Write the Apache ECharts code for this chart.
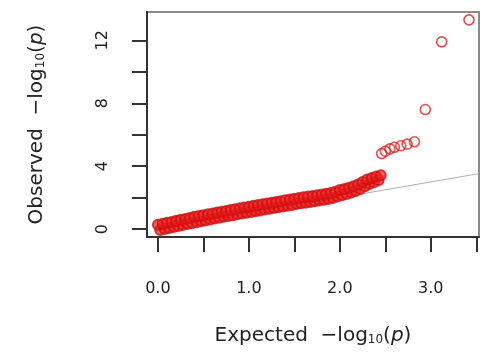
<!DOCTYPE html>
<html>
<head>
<meta charset="utf-8">
<script src="https://cdn.jsdelivr.net/npm/echarts@6/dist/echarts.min.js"></script>
<style>
  html, body { margin: 0; padding: 0; background: #fff; }
  #main { width: 483px; height: 354px; }
</style>
</head>
<body>
<div id="main"></div>
<script>
// expected -log10(p) vs observed -log10(p)
const bandUpper = [
  [0.00, 0.28], [0.05, 0.34], [0.10, 0.40], [0.15, 0.46], [0.20, 0.53], [0.25, 0.59],
  [0.30, 0.65], [0.35, 0.71], [0.40, 0.78], [0.45, 0.83], [0.50, 0.88], [0.55, 0.94],
  [0.60, 1.00], [0.65, 1.06], [0.70, 1.11], [0.75, 1.16], [0.80, 1.22], [0.85, 1.27],
  [0.90, 1.32], [0.95, 1.38], [1.00, 1.43], [1.05, 1.48], [1.10, 1.53], [1.15, 1.58],
  [1.20, 1.63], [1.25, 1.68], [1.30, 1.73], [1.35, 1.78], [1.40, 1.83], [1.45, 1.88],
  [1.50, 1.93], [1.55, 1.98], [1.60, 2.02], [1.65, 2.07], [1.70, 2.11], [1.75, 2.16],
  [1.80, 2.20], [1.85, 2.25], [1.90, 2.30], [1.95, 2.38], [2.00, 2.48], [2.05, 2.55],
  [2.10, 2.63], [2.15, 2.73], [2.20, 2.83], [2.25, 3.00], [2.30, 3.15], [2.35, 3.25],
  [2.40, 3.35], [2.45, 3.42]
];
const bandLower = [
  [0.025, -0.05], [0.075, 0.01], [0.125, 0.07], [0.175, 0.13], [0.225, 0.20], [0.275, 0.26],
  [0.325, 0.32], [0.375, 0.38], [0.425, 0.44], [0.475, 0.50], [0.525, 0.55], [0.575, 0.61],
  [0.625, 0.67], [0.675, 0.72], [0.725, 0.78], [0.775, 0.83], [0.825, 0.88], [0.875, 0.94],
  [0.925, 0.99], [0.975, 1.04], [1.025, 1.09], [1.075, 1.14], [1.125, 1.19], [1.175, 1.24],
  [1.225, 1.29], [1.275, 1.34], [1.325, 1.39], [1.375, 1.44], [1.425, 1.49], [1.475, 1.54],
  [1.525, 1.59], [1.575, 1.64], [1.625, 1.68], [1.675, 1.73], [1.725, 1.77], [1.775, 1.82],
  [1.825, 1.86], [1.875, 1.91], [1.925, 1.98], [1.975, 2.07], [2.025, 2.15], [2.075, 2.23],
  [2.125, 2.32], [2.175, 2.42], [2.225, 2.55], [2.275, 2.73], [2.325, 2.87], [2.375, 2.98],
  [2.425, 3.10]
];
const tailPoints = [
  [2.46, 4.80], [2.50, 4.95], [2.55, 5.10], [2.60, 5.20], [2.67, 5.30], [2.74, 5.40],
  [2.82, 5.55], [2.94, 7.60], [3.12, 11.90], [3.42, 13.30]
];
const diagonal = [[0, 0], [3.53, 3.53]];

const xTicks = [0, 0.5, 1, 1.5, 2, 2.5, 3, 3.5];
const xLabels = [0, 1, 2, 3];
const yTicks = [0, 2, 4, 6, 8, 10, 12];
const yLabels = [0, 4, 8, 12];

const chart = echarts.init(document.getElementById("main"));
const font = "DejaVu Sans";
const bandStyle = {
  color: "rgba(238,30,30,0.85)",
  borderColor: "#d01010",
  borderWidth: 2
};
const tailStyle = {
  color: "rgba(0,0,0,0)",
  borderColor: "#e02020",
  borderWidth: 1.6
};
const nameRich = {
  sub: { fontSize: 12, color: "#222", fontFamily: font, verticalAlign: "bottom", padding: [9, 0, 0, 0] },
  i: { fontSize: 20, color: "#222", fontFamily: font, fontStyle: "italic" }
};

chart.setOption({
  animation: false,
  backgroundColor: "#fff",
  textStyle: { fontFamily: font },
  grid: {
    left: 147,
    right: 4,
    top: 12,
    bottom: 117,
    show: true,
    borderColor: "#8a8a8a",
    borderWidth: 2
  },
  xAxis: {
    type: "value",
    min: -0.12,
    max: 3.53,
    splitLine: { show: false },
    axisLine: { show: true, onZero: false, lineStyle: { color: "#333", width: 2 } },
    axisTick: {
      show: true,
      customValues: xTicks,
      length: 15,
      lineStyle: { color: "#333", width: 2 }
    },
    axisLabel: {
      customValues: xLabels,
      margin: 44,
      fontSize: 16,
      color: "#222",
      formatter: (v) => v.toFixed(1)
    },
    name: "Expected  \u2212log{sub|10}({i|p})",
    nameLocation: "middle",
    nameGap: 88,
    nameTextStyle: { fontSize: 20, color: "#222", rich: nameRich }
  },
  yAxis: {
    type: "value",
    min: -0.5,
    max: 13.8,
    splitLine: { show: false },
    axisLine: { show: true, onZero: false, lineStyle: { color: "#333", width: 2 } },
    axisTick: {
      show: true,
      customValues: yTicks,
      length: 15,
      lineStyle: { color: "#333", width: 2 }
    },
    axisLabel: {
      customValues: yLabels,
      rotate: 90,
      margin: 36,
      fontSize: 16,
      color: "#222"
    },
    name: "Observed  \u2212log{sub|10}({i|p})",
    nameLocation: "middle",
    nameGap: 100,
    nameTextStyle: { fontSize: 20, color: "#222", rich: nameRich }
  },
  series: [
    {
      type: "line",
      data: diagonal,
      symbol: "none",
      lineStyle: { color: "#b0b0b0", width: 1 },
      z: 1
    },
    {
      type: "scatter",
      data: bandLower,
      symbol: "circle",
      symbolSize: 10,
      itemStyle: bandStyle,
      z: 3
    },
    {
      type: "scatter",
      data: bandUpper,
      symbol: "circle",
      symbolSize: 10,
      itemStyle: bandStyle,
      z: 3
    },
    {
      type: "scatter",
      data: tailPoints,
      symbol: "circle",
      symbolSize: 10,
      itemStyle: tailStyle,
      z: 3
    }
  ]
});
</script>
</body>
</html>
